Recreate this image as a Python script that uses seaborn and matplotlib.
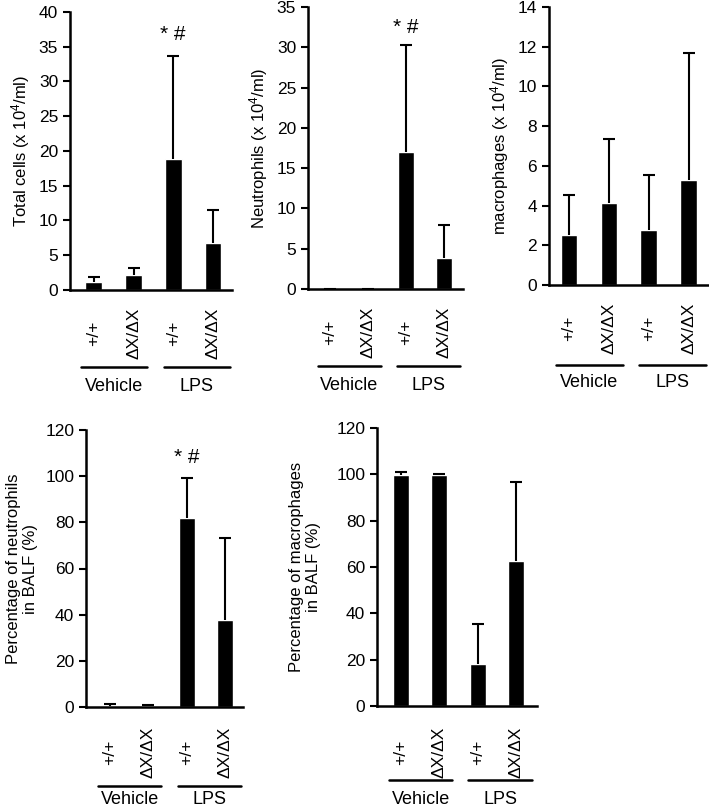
import numpy as np
import pandas as pd
import matplotlib
matplotlib.use("Agg")
import matplotlib.pyplot as plt
import seaborn as sns
from matplotlib.transforms import blended_transform_factory

# ---------------- data ----------------
groups = ["Vehicle", "LPS"]
genotypes = ["+/+", "ΔX/ΔX", "+/+", "ΔX/ΔX"]
keys = ["Vehicle +/+", "Vehicle ΔX/ΔX", "LPS +/+", "LPS ΔX/ΔX"]

total_mean = [1.2, 2.2, 18.9, 6.7]
total_err = [0.7, 0.9, 14.7, 4.8]
neut_mean = [0.0, 0.0, 17.0, 3.8]
neut_err = [0.0, 0.0, 13.3, 4.1]
mac_mean = [2.5, 4.15, 2.75, 5.3]
mac_err = [2.05, 3.2, 2.8, 6.4]
pct_neut_mean = [0.6, 0.4, 82.0, 37.5]
pct_neut_err = [0.9, 0.4, 17.0, 35.5]
pct_mac_mean = [99.5, 99.7, 18.3, 62.5]
pct_mac_err = [1.3, 0.3, 17.0, 34.3]

sig_label = "* #"

sns.set_theme(style="ticks")
plt.rcParams["font.family"] = ["Liberation Sans", "DejaVu Sans"]
plt.rcParams["mathtext.default"] = "regular"
for k in ["text.color", "axes.labelcolor", "xtick.color", "ytick.color", "axes.edgecolor"]:
    plt.rcParams[k] = "black"

W, H = 709, 809
fig = plt.figure(figsize=(W / 100, H / 100), dpi=100)


def make_ax(left, right, top, bottom):
    return fig.add_axes([left / W, 1 - bottom / H, (right - left) / W, (bottom - top) / H])


def panel(box, means, errs, ymax, ystep, ylabel, xlim, sig=None,
          tick_off=43, line_off=77, text_off=96, labelpad=5):
    left, right, top, bottom = box
    ax = make_ax(*box)
    hpx = bottom - top
    df = pd.DataFrame({"key": keys, "value": means})
    sns.barplot(data=df, x="key", y="value", order=keys, color="black",
                width=0.42, saturation=1, ax=ax, errorbar=None)
    x = np.arange(len(keys))
    eb = ax.errorbar(x, means, yerr=[np.zeros(len(errs)), errs], fmt="none",
                     ecolor="black", elinewidth=1.5, capsize=4.5, capthick=1.5)
    eb[1][0].set_visible(False)  # hide lower caps
    ax.set_ylim(0, ymax)
    ax.set_yticks(np.arange(0, ymax + 0.001, ystep))
    ax.set_xlim(*xlim)
    ax.set_xticks([])
    ax.set_xlabel("")
    ax.set_ylabel(ylabel, fontsize=12, labelpad=labelpad)
    ax.tick_params(axis="y", labelsize=12.5, length=5, width=1.5, direction="out")
    for s in ["top", "right"]:
        ax.spines[s].set_visible(False)
    for s in ["left", "bottom"]:
        ax.spines[s].set_linewidth(1.8)
    tr = blended_transform_factory(ax.transData, ax.transAxes)
    for i, g in enumerate(genotypes):
        ax.text(i, -tick_off / hpx, g, rotation=90, ha="center", va="center",
                fontsize=12.5, transform=tr)
    spans = [(-0.32, 1.34), (1.76, 3.42)]
    for (a, b), g in zip(spans, groups):
        ax.plot([a, b], [-line_off / hpx] * 2, color="black", lw=1.8,
                transform=tr, clip_on=False)
        ax.text((a + b) / 2, -text_off / hpx, g, ha="center", va="center",
                fontsize=13, transform=tr)
    if sig is not None:
        ax.text(2, sig, sig_label, ha="center", va="center", fontsize=15)
    return ax


panel((70, 232, 12, 290), total_mean, total_err, 40, 5,
      "Total cells (x 10$^4$/ml)", (-0.6, 3.48), sig=36.8)
panel((308, 463, 7, 289), neut_mean, neut_err, 35, 5,
      "Neutrophils (x 10$^4$/ml)", (-0.58, 3.5), sig=32.5)
panel((549, 708, 7, 285), mac_mean, mac_err, 14, 2,
      "macrophages (x 10$^4$/ml)", (-0.5, 3.48), text_off=98, line_off=80)
panel((86, 243, 430, 707), pct_neut_mean, pct_neut_err, 120, 20,
      "Percentage of neutrophils\nin BALF (%)", (-0.63, 3.47), sig=108,
      tick_off=45, line_off=79, text_off=93)
panel((377, 537, 428, 706), pct_mac_mean, pct_mac_err, 120, 20,
      "Percentage of macrophages\nin BALF (%)", (-0.63, 3.55),
      tick_off=46, line_off=74, text_off=94, labelpad=11)

fig.savefig("out.png", dpi=100, facecolor="white")
